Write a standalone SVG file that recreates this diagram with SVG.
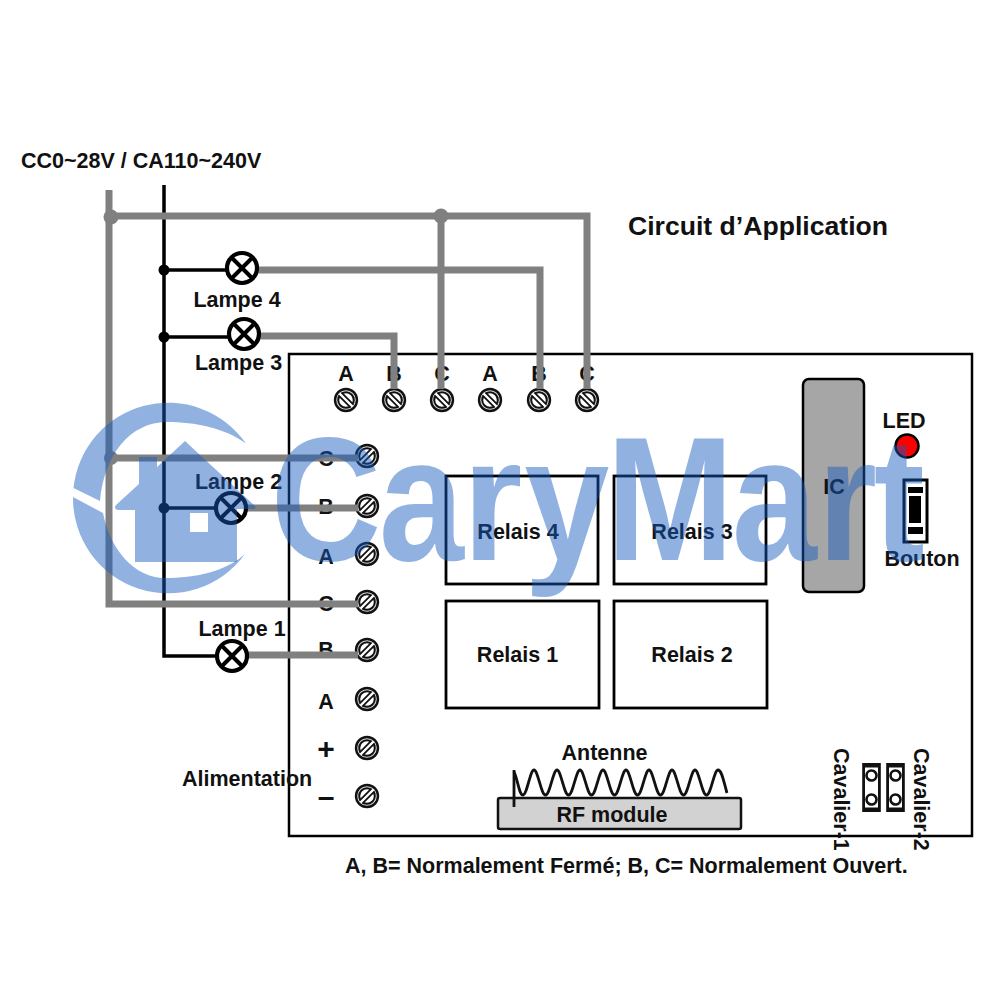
<svg xmlns="http://www.w3.org/2000/svg" xmlns:xlink="http://www.w3.org/1999/xlink" width="1000" height="1000" viewBox="0 0 1000 1000">
<style>
text{font-family:"Liberation Sans",Arial,sans-serif;font-weight:bold;fill:#111}
.t21{font-size:21.500px}
.g{fill:none;stroke:#808080;stroke-width:7;stroke-linejoin:miter}
.k{fill:none;stroke:#000;stroke-width:3.500}
.box{fill:#fff;stroke:#000;stroke-width:2.800}
.lamp circle{fill:#fff;stroke:#000;stroke-width:4.200}
.lamp path{stroke:#000;stroke-width:4;fill:none}
.s1{fill:#d8d8d8;stroke:#111;stroke-width:2.400}
.s2{fill:#fff;stroke:#111;stroke-width:2}
.s3{stroke:#111;stroke-width:6;fill:none}
.s4{stroke:#fff;stroke-width:2.400;fill:none}
.wm{fill:#1559bf;fill-opacity:.47}
</style>
<defs>
<g id="screw"><circle class="s1" r="11"/><circle class="s2" r="7.800"/><path class="s3" d="M-6 -6L6 6"/><path class="s4" d="M-6.500 -6.500L6.500 6.500"/></g>
<g id="screwS"><circle class="s1" r="11"/><circle class="s2" r="7.800"/><path class="s3" d="M-6 6L6 -6"/><path class="s4" d="M-6.500 6.500L6.500 -6.500"/></g>
<g id="lampShape" class="lamp"><circle r="15"/><path d="M-10.500 -10.500L10.500 10.500M-10.500 10.500L10.500 -10.500"/></g>
<g id="jumper"><rect x="-9.300" y="-24.500" width="18.600" height="49" fill="#111"/><rect x="-6.500" y="-20" width="13" height="40" fill="#fff"/><circle cy="-12" r="5" fill="#fff" stroke="#111" stroke-width="2.600"/><circle cy="12" r="5" fill="#fff" stroke="#111" stroke-width="2.600"/></g>
</defs>

<g id="board"><rect x="289" y="354" width="683" height="482" fill="#fff" stroke="#000" stroke-width="2.500"/></g>

<g id="terminal-labels">
<text class="t21" x="346" y="381" text-anchor="middle">A</text>
<text class="t21" x="394" y="381" text-anchor="middle">B</text>
<text class="t21" x="442" y="381" text-anchor="middle">C</text>
<text class="t21" x="490" y="381" text-anchor="middle">A</text>
<text class="t21" x="539" y="381" text-anchor="middle">B</text>
<text class="t21" x="587" y="381" text-anchor="middle">C</text>
<text class="t21" x="326" y="466" text-anchor="middle">C</text>
<text class="t21" x="326" y="514" text-anchor="middle">B</text>
<text class="t21" x="326" y="564" text-anchor="middle">A</text>
<text class="t21" x="326" y="611" text-anchor="middle">C</text>
<text class="t21" x="326" y="657" text-anchor="middle">B</text>
<text class="t21" x="326" y="709" text-anchor="middle">A</text>
<text x="326" y="759" text-anchor="middle" font-size="30">+</text>
<text x="326" y="807" text-anchor="middle" font-size="30">–</text>
</g>

<g id="screws-top">
<use xlink:href="#screw" href="#screw" x="346" y="400"/><use xlink:href="#screw" href="#screw" x="394" y="400"/><use xlink:href="#screw" href="#screw" x="442" y="400"/><use xlink:href="#screw" href="#screw" x="490" y="400"/><use xlink:href="#screw" href="#screw" x="539" y="400"/><use xlink:href="#screw" href="#screw" x="587" y="400"/>
</g>
<g id="screws-side">
<use xlink:href="#screwS" href="#screwS" x="367" y="456"/><use xlink:href="#screwS" href="#screwS" x="367" y="506"/><use xlink:href="#screwS" href="#screwS" x="367" y="554"/><use xlink:href="#screwS" href="#screwS" x="367" y="602"/><use xlink:href="#screwS" href="#screwS" x="367" y="650"/><use xlink:href="#screwS" href="#screwS" x="367" y="699"/><use xlink:href="#screwS" href="#screwS" x="367" y="748"/><use xlink:href="#screwS" href="#screwS" x="367" y="796"/>
</g>

<g id="connectors">
<path class="k" d="M164 185V656H218"/>
<path class="k" d="M164 270H228M164 337H230M164 508H216"/>
<circle cx="164" cy="270" r="5.500"/><circle cx="164" cy="337" r="5.500"/><circle cx="164" cy="508" r="5.500"/>
<path class="g" d="M109 190V604H358"/>
<path class="g" d="M109 216H587V389"/>
<path class="g" d="M441 216V389"/>
<path class="g" d="M109 458H358"/>
<path class="g" d="M250 270H540V389"/>
<path class="g" d="M254 336H394V389"/>
<path class="g" d="M245 508H358"/>
<path class="g" d="M246 655H358"/>
<circle cx="111" cy="217" r="7.500" fill="#808080"/><circle cx="441" cy="216" r="7.500" fill="#808080"/><circle cx="111" cy="458" r="7" fill="#808080"/>
</g>

<g id="lamp4"><use xlink:href="#lampShape" href="#lampShape" x="242" y="268"/><text class="t21" x="237" y="307" text-anchor="middle">Lampe 4</text></g>
<g id="lamp3"><use xlink:href="#lampShape" href="#lampShape" x="244" y="334"/><text class="t21" x="238.500" y="370" text-anchor="middle">Lampe 3</text></g>
<g id="lamp2"><use xlink:href="#lampShape" href="#lampShape" x="231" y="508"/><text class="t21" x="238.500" y="489" text-anchor="middle">Lampe 2</text></g>
<g id="lamp1"><use xlink:href="#lampShape" href="#lampShape" x="232" y="656"/><text class="t21" x="242" y="636" text-anchor="middle">Lampe 1</text></g>

<g id="relay4"><rect class="box" x="446" y="476" width="152" height="108"/><text class="t21" x="518" y="539" text-anchor="middle">Relais 4</text></g>
<g id="relay3"><rect class="box" x="614" y="476" width="152" height="108"/><text class="t21" x="692" y="539" text-anchor="middle">Relais 3</text></g>
<g id="relay1"><rect class="box" x="446" y="601" width="153" height="107"/><text class="t21" x="517.500" y="662" text-anchor="middle">Relais 1</text></g>
<g id="relay2"><rect class="box" x="614" y="601" width="153" height="107"/><text class="t21" x="692" y="662" text-anchor="middle">Relais 2</text></g>

<g id="ic"><rect x="803" y="379" width="61" height="213" rx="6" fill="#a6a6a6" stroke="#000" stroke-width="2.500"/><text class="t21" x="834" y="494" text-anchor="middle">IC</text></g>
<g id="led"><text class="t21" x="904" y="428" text-anchor="middle">LED</text><circle cx="907" cy="446" r="11.500" fill="#f00" stroke="#000" stroke-width="2.500"/></g>
<g id="bouton"><rect x="904" y="480" width="23" height="62" fill="#fff" stroke="#000" stroke-width="3"/><rect x="908" y="487" width="15" height="6" fill="#000"/><rect x="909" y="496" width="12" height="27" fill="#000"/><rect x="908" y="527" width="15" height="7" fill="#000"/><text class="t21" x="922" y="566" text-anchor="middle">Bouton</text></g>

<g id="rf-module">
<text class="t21" x="604.500" y="760" text-anchor="middle">Antenne</text>
<rect x="498" y="798" width="243" height="31" rx="2" fill="#d2d2d2" stroke="#111" stroke-width="2.500"/>
<text class="t21" x="612" y="822" text-anchor="middle">RF module</text>
<path d="M514 770V807" fill="none" stroke="#111" stroke-width="2.800"/>
<path d="M514 772C518 780 519 795 523 795S530 770 534 770S541 795 545.500 795S553 770 557 770S564 795 568.500 795S576 770 580 770S587 795 591.500 795S599 770 603 770S610 795 614.500 795S622 770 626 770S633 795 637.500 795S645 770 649 770S656 795 660.500 795S668 770 672 770S679 795 683.500 795S691 770 695 770S702 795 706.500 795S714 770 718 770C722 770 724 783 727 793" fill="none" stroke="#111" stroke-width="2.800"/>
</g>

<g id="cavaliers">
<use xlink:href="#jumper" href="#jumper" x="871.500" y="787.500"/><use xlink:href="#jumper" href="#jumper" x="895.500" y="787.500"/>
<text class="t21" transform="translate(834 748) rotate(90)">Cavalier-1</text>
<text class="t21" transform="translate(914 748) rotate(90)">Cavalier-2</text>
</g>

<g id="labels">
<text class="t21" x="21" y="168">CC0~28V / CA110~240V</text>
<text x="628" y="235" font-size="26.600">Circuit d’Application</text>
<text class="t21" x="182" y="786">Alimentation</text>
<text class="t21" x="345" y="873">A, B= Normalement Fermé; B, C= Normalement Ouvert.</text>
</g>

<g id="watermark">
<path class="wm" d="M246 443.500A95 95 0 0 0 73.500 488L100 501C104 455 130 422 167 422C195 422 225 428 246 443.500Z"/>
<path class="wm" d="M73 497A95 95 0 0 0 245 554C225 572 195 578 165 578C135 578 110 550 103 513Z"/>
<path class="wm" fill-rule="evenodd" d="M185 441L255 506Q257 509 253 509H237V562H135V510H118Q113 509 116 505L139 484V457H157V467ZM190 513V532H208V513Z"/>
<text transform="translate(0 560) scale(.865 1)" x="313 438 535 606 701 846 945 1010" y="0" font-size="177" style="fill:#1559bf;fill-opacity:.47">CaryMart</text>
</g>
</svg>
